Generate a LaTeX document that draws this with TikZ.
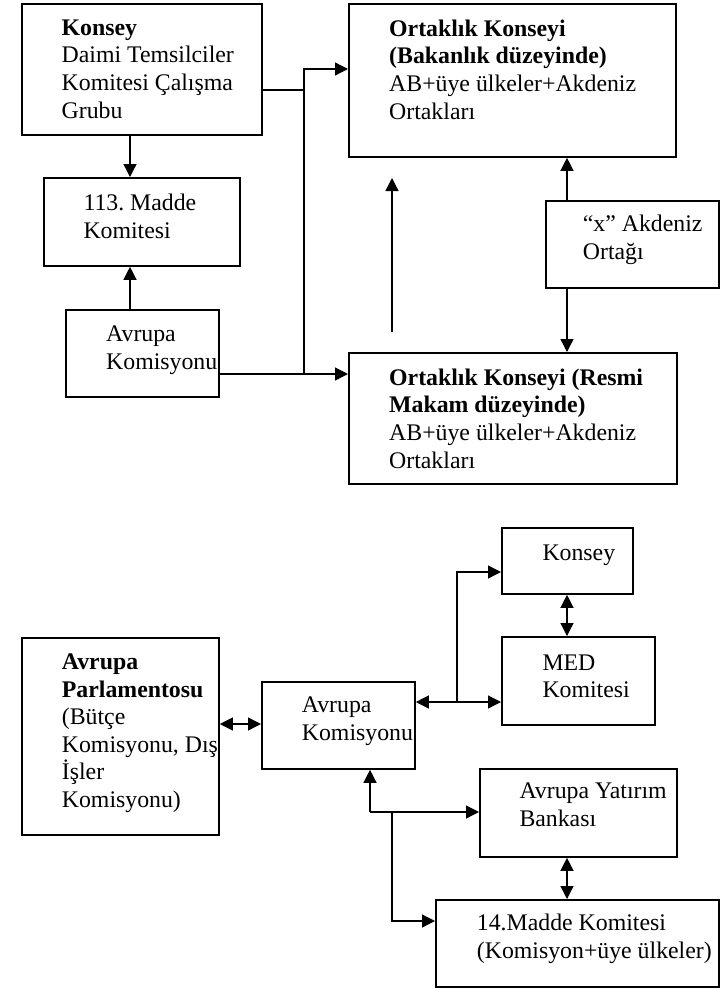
\documentclass[tikz,border=0pt]{standalone}
\usepackage{fontspec}
\setmainfont{Liberation Serif}
\usetikzlibrary{arrows.meta}
\frenchspacing
\tikzset{
	kasten/.style={draw, line width=1.8pt, inner sep=0pt, anchor=north west},
	schrift/.style={anchor=north west, inner sep=0pt, align=left, font=\fontsize{23.8}{27.6}\selectfont},
	linie/.style={line width=1.3pt},
	pfeil/.style={line width=1.3pt, -{Triangle[length=13pt,width=13pt]}},
	doppel/.style={line width=1.3pt, {Triangle[length=13pt,width=13pt]}-{Triangle[length=13pt,width=13pt]}},
}
\begin{document}
\begin{tikzpicture}[x=1pt,y=-1pt]
		\useasboundingbox (0,0) rectangle (720,989);
		% oberer Teil
		\node[kasten, minimum width=240, minimum height=131] (konseyA) at (21,3) {};
		\node[kasten, minimum width=196, minimum height=88] (madde) at (43,177) {};
		\node[kasten, minimum width=153, minimum height=87] (komA) at (65,309) {};
		\node[kasten, minimum width=327, minimum height=153] (bakan) at (348,3) {};
		\node[kasten, minimum width=173, minimum height=87] (akd) at (545,200) {};
		\node[kasten, minimum width=328, minimum height=131] (resmi) at (348,352) {};
		
		\node[schrift] (konseyAt) at (61.5,15.7) {\strut\textbf{Konsey}\\Daimi Temsilciler\\Komitesi Çalışma\\Grubu};
		\node[schrift] (maddet) at (83.3,191.2) {\strut 113. Madde\\Komitesi};
		\node[schrift] (komAt) at (106,322.4) {\strut Avrupa\\Komisyonu};
		\node[schrift] (bakant) at (389,16.7) {\strut\textbf{Ortaklık Konseyi}\\\textbf{(Bakanlık düzeyinde)}\\AB+üye ülkeler+Akdeniz\\Ortakları};
		\node[schrift] (akdt) at (582.7,212.4) {\strut “x” Akdeniz\\Ortağı};
		\node[schrift] (resmit) at (389,365.7) {\strut\textbf{Ortaklık Konseyi (Resmi}\\\textbf{Makam düzeyinde)}\\AB+üye ülkeler+Akdeniz\\Ortakları};
		
		\coordinate (spalteA) at (130,0);
		\coordinate (spalteB) at (567,0);
		\coordinate (jA) at (304,374);
		\coordinate (pfeilA) at (392,332);
		\coordinate (pfeilB) at (392,178);
		
		\draw[pfeil] (konseyA.south -| spalteA) -- (madde.north -| spalteA);
		\draw[pfeil] (komA.north -| spalteA) -- (madde.south -| spalteA);
		\draw[pfeil] (komA.east |- jA) -- (resmi.west |- jA);
		\draw[pfeil] (jA) |- (bakan.west |- 0,69);
		\draw[linie] (konseyA.east |- 0,90) -- (jA |- 0,90);
		\draw[pfeil] (pfeilA) -- (pfeilB);
		\draw[pfeil] (akd.north -| spalteB) -- (bakan.south -| spalteB);
		\draw[pfeil] (akd.south -| spalteB) -- (resmi.north -| spalteB);
		
		% unterer Teil
		\node[kasten, minimum width=131, minimum height=66] (konseyB) at (501,527) {};
		\node[kasten, minimum width=153, minimum height=88] (med) at (501,636) {};
		\node[kasten, minimum width=197, minimum height=197] (parl) at (21,637) {};
		\node[kasten, minimum width=153, minimum height=87] (komB) at (261,681) {};
		\node[kasten, minimum width=197, minimum height=88] (banka) at (479,768) {};
		\node[kasten, minimum width=283, minimum height=87] (madde14) at (435,899) {};
		
		\node[schrift] (konseyBt) at (542.3,540.7) {\strut Konsey};
		\node[schrift] (medt) at (542.3,650.7) {\strut MED\\Komitesi};
		\node[schrift] (parlt) at (61.7,650) {\strut\textbf{Avrupa}\\\textbf{Parlamentosu}\\(Bütçe\\Komisyonu, Dış\\İşler\\Komisyonu)};
		\node[schrift] (komBt) at (301.7,693) {\strut Avrupa\\Komisyonu};
		\node[schrift] (bankat) at (519.3,779) {\strut Avrupa Yatırım\\Bankası};
		\node[schrift] (madde14t) at (476.7,911.4) {\strut 14.Madde Komitesi\\(Komisyon+üye ülkeler)};
		
		\coordinate (jB) at (457,702);
		\coordinate (jC) at (370,812);
		\coordinate (jD) at (392,812);
		
		\draw[doppel] (konseyB.south -| spalteB) -- (med.north -| spalteB);
		\draw[doppel] (komB.east |- jB) -- (med.west |- jB);
		\draw[pfeil] (jB) |- (konseyB.west |- 0,572);
		\draw[doppel] (parl.east |- 0,724) -- (komB.west |- 0,724);
		\draw[pfeil] (jC) -- (komB.south -| jC);
		\draw[pfeil] (jC) -- (banka.west |- jC);
		\draw[pfeil] (jD) |- (madde14.west |- 0,921);
		\draw[doppel] (banka.south -| spalteB) -- (madde14.north -| spalteB);
	\end{tikzpicture}
\end{document}
